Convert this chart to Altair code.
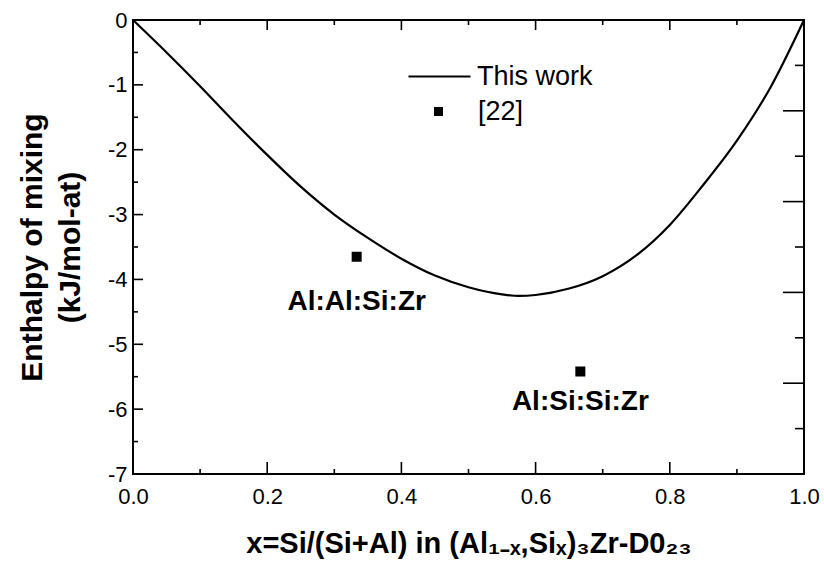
import altair as alt
import pandas as pd

# ---- data ----
curve_x = [0.0, 0.05, 0.10, 0.15, 0.20, 0.25, 0.30, 0.35, 0.40, 0.45, 0.50, 0.55,
           0.575, 0.60, 0.65, 0.70, 0.75, 0.80, 0.85, 0.90, 0.95, 1.0]
curve_y = [0.0, -0.50, -1.02, -1.56, -2.08, -2.57, -3.00, -3.36, -3.68, -3.94, -4.12, -4.23,
           -4.255, -4.24, -4.14, -3.95, -3.63, -3.16, -2.54, -1.86, -1.04, 0.0]

ref_x = [1 / 3, 2 / 3]
ref_y = [-3.65, -5.42]
ref_labels = ["Al:Al:Si:Zr", "Al:Si:Si:Zr"]

line_name = "This work"
ref_name = "[22]"

x_major = [0.0, 0.2, 0.4, 0.6, 0.8, 1.0]
x_minor = [0.1, 0.3, 0.5, 0.7, 0.9]
y_major = [0, -1, -2, -3, -4, -5, -6, -7]
y_minor = [-0.5, -1.5, -2.5, -3.5, -4.5, -5.5, -6.5]
r_long = [-1.4, -2.8, -4.2, -5.6]
r_short = [-0.7, -2.1, -3.5, -4.9, -6.3]

W, H = 671, 454
FONT = "Liberation Sans"

curve_df = pd.DataFrame({"x": curve_x, "y": curve_y, "series": line_name})
ref_df = pd.DataFrame({"x": ref_x, "y": ref_y, "label": ref_labels, "ref": ref_name})

xs = alt.Scale(domain=[0, 1], nice=False, zero=False)
ys = alt.Scale(domain=[-7, 0], nice=False, zero=False)

x_title = "x=Si/(Si+Al) in (Al\u2081\u208b\u2093,Si\u2093)\u2083Zr-D0\u2082\u2083"

x_axis = alt.Axis(
    values=x_major, labelExpr="format(datum.value, '.1f')", grid=False, ticks=False, domain=False,
    labelFont=FONT, labelFontSize=22, labelColor="black", labelPadding=12, labelFlush=False,
    title=x_title, titleFont=FONT, titleFontSize=29, titleFontWeight="bold", titleColor="black",
    titlePadding=22)
y_axis = alt.Axis(
    values=y_major, labelExpr="'' + datum.value", grid=False, ticks=False, domain=False,
    labelFont=FONT, labelFontSize=22, labelColor="black", labelPadding=6, labelFlush=False,
    title=["Enthalpy of mixing", "(kJ/mol-at)"], titleFont=FONT, titleFontSize=30,
    titleFontWeight="bold", titleColor="black", titleLineHeight=38, titlePadding=22)


def X(f):
    return alt.X(f, scale=xs, axis=x_axis)


def Y(f):
    return alt.Y(f, scale=ys, axis=y_axis)


line = alt.Chart(curve_df).mark_line(strokeWidth=2.2, interpolate="monotone").encode(
    x=X("x:Q"), y=Y("y:Q"),
    color=alt.Color("series:N", scale=alt.Scale(domain=[line_name], range=["black"]),
                    legend=alt.Legend(title=None, orient="none", legendX=274, legendY=24,
                                      symbolType="stroke", symbolSize=3844, symbolStrokeWidth=2.2,
                                      labelFont=FONT, labelFontSize=27, labelColor="black",
                                      labelOffset=5)),
)

points = alt.Chart(ref_df).mark_point(
    filled=False, fill="black", stroke="black", strokeWidth=2, opacity=1, fillOpacity=1, size=64
).encode(
    x=X("x:Q"), y=Y("y:Q"),
    shape=alt.Shape("ref:N", scale=alt.Scale(domain=[ref_name], range=["square"]),
                    legend=alt.Legend(title=None, orient="none", legendX=292, legendY=78,
                                      symbolSize=81, symbolStrokeWidth=1.5, symbolStrokeColor="black",
                                      symbolFillColor="black",
                                      labelFont=FONT, labelFontSize=27, labelColor="black",
                                      labelOffset=26)),
)

lab1 = alt.Chart(ref_df).transform_filter(alt.datum.label == ref_labels[0]).mark_text(
    font=FONT, fontSize=28, fontWeight="bold", color="black", dy=45, align="center", baseline="middle"
).encode(x=X("x:Q"), y=Y("y:Q"), text="label:N")

lab2 = alt.Chart(ref_df).transform_filter(alt.datum.label == ref_labels[1]).mark_text(
    font=FONT, fontSize=28, fontWeight="bold", color="black", dy=30, align="center", baseline="middle"
).encode(x=X("x:Q"), y=Y("y:Q"), text="label:N")


def xticks(vals, y0, y1):
    return alt.Chart(pd.DataFrame({"v": vals})).mark_rule(color="black", strokeWidth=1.6).encode(
        x=X("v:Q"), y=alt.value(y0), y2=alt.value(y1))


def yticks(vals, x0, x1):
    return alt.Chart(pd.DataFrame({"v": vals})).mark_rule(color="black", strokeWidth=1.6).encode(
        y=Y("v:Q"), x=alt.value(x0), x2=alt.value(x1))


ticks = [
    xticks(x_major, H, H - 12), xticks(x_minor, H, H - 5),
    xticks(x_major, 0, 10), xticks(x_minor, 0, 5),
    yticks(y_major, 0, 10), yticks(y_minor, 0, 5),
    yticks(r_long, W, W - 21), yticks(r_short, W, W - 9),
]

chart = alt.layer(line, *ticks, points, lab1, lab2).properties(
    width=W, height=H,
    autosize=alt.AutoSizeParams(type="none"),
    padding={"left": 133, "top": 20, "right": 20, "bottom": 98},
    background="white",
).configure_view(stroke="black", strokeWidth=2)

chart.save("out.html", embed_options={"renderer": "svg", "actions": False})
